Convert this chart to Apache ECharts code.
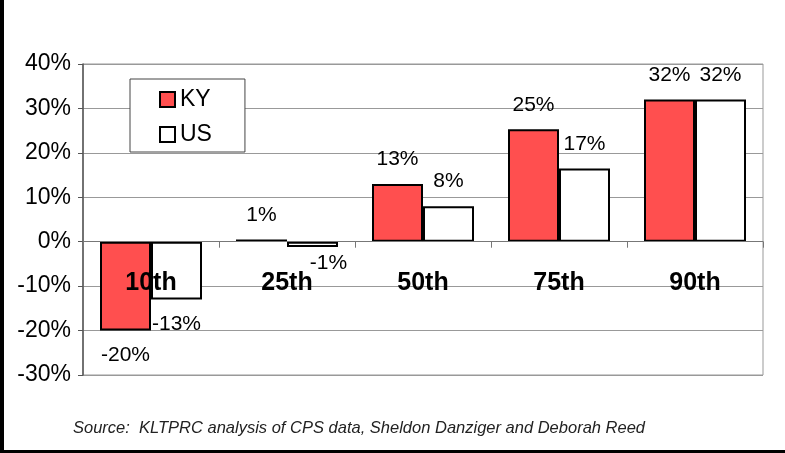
<!DOCTYPE html>
<html>
<head>
<meta charset="utf-8">
<script src="https://cdn.jsdelivr.net/npm/echarts@6/dist/echarts.min.js"></script>
<style>
  html, body { margin: 0; padding: 0; background: #fff; }
  #chart { width: 785px; height: 453px; }
</style>
</head>
<body>
<div id="chart"></div>
<script>
const categories = ['10th', '25th', '50th', '75th', '90th'];
const kyValues = [-20, 0.5, 13, 25.3, 32];
const usValues = [-13, -1.2, 8, 16.5, 32];
const seriesNames = ['KY', 'US'];
const sourceText = 'Source:  KLTPRC analysis of CPS data, Sheldon Danziger and Deborah Reed';

const font = 'Liberation Sans, Arial, sans-serif';

// labels above positive bars, below negative ones;
// a tiny negative bar gets its label nudged aside so it clears the category name
const withLabels = vals => vals.map(v => ({
  value: v,
  label: {
    position: v < 0 ? 'bottom' : 'top',
    offset: (v < 0 && v > -2) ? [16, -8] : [0, 0]
  }
}));

const barLabel = {
  show: true,
  distance: 14,
  color: '#000',
  fontFamily: font,
  fontSize: 21,
  formatter: p => Math.round(p.value) + '%'
};

const chart = echarts.init(document.getElementById('chart'));
chart.setOption({
  animation: false,
  title: {
    text: sourceText,
    left: 68,
    top: 415,
    textStyle: {
      fontFamily: font,
      fontStyle: 'italic',
      fontWeight: 'normal',
      fontSize: 16.5,
      color: '#222'
    }
  },
  legend: {
    orient: 'vertical',
    left: 130,
    top: 79,
    padding: [9, 33, 6, 29],
    itemGap: 12,
    itemWidth: 15,
    itemHeight: 15,
    icon: 'rect',
    backgroundColor: '#fff',
    borderColor: '#444',
    borderWidth: 1,
    textStyle: { fontFamily: font, fontSize: 23, color: '#000', padding: [0, 0, 0, 0] },
    data: seriesNames
  },
  grid: {
    left: 83,
    right: 22,
    top: 64,
    bottom: 78,
    show: true,
    borderColor: '#999',
    borderWidth: 1
  },
  xAxis: {
    type: 'category',
    data: categories,
    z: 10,
    axisLine: { onZero: true, lineStyle: { color: '#777', width: 1 } },
    axisTick: { show: true, length: 6, lineStyle: { color: '#777' } },
    axisLabel: {
      // pull the labels up from the grid bottom to just under the zero line
      margin: -104,
      fontFamily: font,
      fontSize: 25,
      fontWeight: 'bold',
      color: '#000'
    }
  },
  yAxis: {
    type: 'value',
    min: -30,
    max: 40,
    interval: 10,
    axisLine: { show: true, lineStyle: { color: '#555', width: 1.5 } },
    axisTick: { show: true, length: 5, lineStyle: { color: '#555' } },
    splitLine: { lineStyle: { color: '#999', width: 1 } },
    axisLabel: {
      margin: 12,
      fontFamily: font,
      fontSize: 23,
      color: '#000',
      formatter: '{value}%'
    }
  },
  series: [
    {
      name: seriesNames[0],
      type: 'bar',
      data: withLabels(kyValues),
      barWidth: 51,
      barGap: '0%',
      itemStyle: { color: '#ff4f4f', borderColor: '#000', borderWidth: 2 },
      label: barLabel
    },
    {
      name: seriesNames[1],
      type: 'bar',
      data: withLabels(usValues),
      barWidth: 51,
      barGap: '0%',
      itemStyle: { color: '#fff', borderColor: '#000', borderWidth: 2 },
      label: barLabel
    }
  ],
  graphic: [
    { type: 'rect', shape: { x: 0, y: 0, width: 4, height: 453 }, style: { fill: '#000' } },
    { type: 'rect', shape: { x: 0, y: 450, width: 785, height: 3 }, style: { fill: '#000' } }
  ]
});
</script>
</body>
</html>
